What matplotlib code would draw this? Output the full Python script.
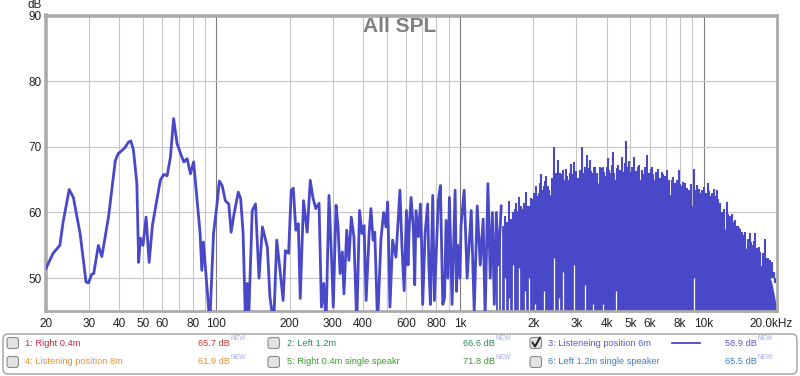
import matplotlib
matplotlib.use("Agg")
import matplotlib.pyplot as plt
import matplotlib.transforms as mtransforms
from matplotlib.patches import FancyBboxPatch
from matplotlib.ticker import NullLocator

plt.rcParams["font.family"] = ["Liberation Sans", "DejaVu Sans"]

LINE = "#4848c8"

# ── Data (REW "All SPL", listening position 6m) ─────────────────────────────
# low/mid band: single trace, Hz / dB
lf_freq = [20, 21.4, 22.8, 23.5, 24.9, 25.9, 27.6, 29.2, 29.9, 30.8, 31.4, 32.8,
           33.9, 36.1, 38.5, 39.6, 40.3, 42.0, 43.6, 44.6, 45.7, 47.2, 48.0, 48.8,
           50.0, 51.5, 53.0, 54.7, 58.9, 60.8, 62.8, 64.8, 66.8, 69.0, 72.3, 73.6,
           75.9, 78.3, 80.7, 85.8, 87.2, 88.5, 91.8, 94.0, 97.4, 100.7, 102.9, 105.7,
           108.9, 112.5, 115, 118, 123, 125.9, 128.8, 131.8, 134, 135.6, 140.4, 144.8,
           149.7, 154.6, 162, 166, 172, 177, 182, 188, 192, 198, 203, 207,
           212, 217, 221, 228, 236, 243, 249, 256, 264, 270, 276, 282,
           290, 297, 302, 310, 316, 322, 329, 334, 343, 350, 358, 367,
           377, 387, 396, 404, 412, 424, 431, 440, 447, 459, 474, 486,
           497, 505, 516, 529, 546, 567, 578, 590, 603, 612, 620, 630,
           644, 652, 660, 675, 688, 696, 703, 719, 737, 745, 756, 773,
           785, 815, 831, 850, 864, 877, 892, 905, 928, 955, 968, 980,
           1000, 1010, 1040, 1070, 1112, 1144, 1177, 1211, 1245, 1268, 1302, 1331,
           1358, 1383, 1410, 1436, 1477]
lf_db = [51.5, 53.8, 55.0, 58.5, 63.5, 62.3, 56.8, 49.4, 49.3, 50.6, 50.7, 55.0,
         53.3, 59.3, 67.9, 69.0, 69.2, 69.8, 70.7, 70.9, 69.5, 64.4, 52.4, 56.1,
         55.0, 59.3, 52.4, 58.1, 64.9, 65.8, 65.6, 68.4, 74.3, 70.5, 68.4, 67.7,
         68.2, 65.9, 67.7, 56.8, 51.2, 55.5, 48.1, 43.0, 56.8, 61.3, 64.8, 64.1,
         61.8, 61.3, 57.0, 59.6, 63.1, 62.1, 56.8, 43.0, 49.2, 43.0, 60.3, 61.3,
         50.0, 57.8, 54.7, 47.1, 43.0, 55.8, 51.7, 46.6, 54.2, 53.8, 63.4, 63.7,
         57.3, 58.3, 46.9, 61.8, 57.0, 64.9, 62.3, 60.6, 61.4, 45.6, 49.2, 43.0,
         62.6, 53.2, 45.6, 61.1, 57.8, 50.7, 54.0, 47.6, 57.3, 52.7, 59.3, 56.3,
         43.0, 60.3, 56.8, 58.0, 46.6, 57.0, 60.6, 55.8, 57.0, 43.0, 56.0, 60.0,
         57.8, 61.6, 45.6, 55.8, 53.2, 63.4, 54.7, 48.1, 60.3, 52.0, 58.3, 62.3,
         57.3, 49.0, 60.3, 56.3, 61.3, 55.0, 46.0, 56.8, 61.3, 52.0, 46.0, 62.6,
         46.6, 61.8, 64.1, 46.0, 47.0, 58.8, 50.0, 62.3, 46.0, 63.4, 48.0, 55.0,
         50.0, 58.0, 63.4, 50.0, 60.3, 45.0, 61.0, 52.0, 59.0, 44.0, 64.4, 50.0,
         60.0, 46.0, 60.0, 52.0, 61.0]

# high band: the trace is so dense it reads as a solid band
body_freq = [1400, 1450, 1500, 1600, 1700, 1800, 1900, 2000, 2100, 2200, 2400, 2600,
             2800, 3000, 3300, 3600, 4000, 4500, 5000, 5500, 6000, 6500, 7000, 7500,
             8000, 8500, 9000, 10000, 11000, 11500, 12000, 12500, 13000, 14000, 15000, 16000,
             17000, 18000, 19000, 19600, 20000]
body_top = [56.0, 58.0, 58.0, 58.5, 59.0, 59.0, 59.5, 60.5, 61.5, 62.0, 63.0, 63.5,
            64.0, 64.0, 64.5, 64.5, 64.5, 65.0, 64.5, 64.0, 63.5, 63.5, 63.0, 62.5,
            62.0, 61.5, 61.0, 61.0, 60.5, 59.0, 57.5, 57.5, 56.5, 55.0, 54.5, 53.5,
            52.0, 51.5, 49.5, 47.0, 45.0]

# individual peaks sticking out of the band
spike_freq = [1534, 1564, 1594, 1624, 1655, 1678, 1702, 1727, 1752, 1777, 1802, 1837,
              1872, 1899, 1926, 1953, 1981, 2019, 2057, 2086, 2116, 2137, 2158, 2189,
              2220, 2241, 2262, 2294, 2327, 2380, 2434, 2461, 2488, 2508, 2528, 2556,
              2584, 2617, 2651, 2692, 2734, 2760, 2786, 2826, 2866, 2904, 2942, 2998,
              3055, 3114, 3173, 3208, 3244, 3275, 3306, 3358, 3410, 3454, 3498, 3537,
              3576, 3662, 3749, 3810, 3872, 3914, 3957, 3995, 4033, 4091, 4150, 4203,
              4256, 4303, 4350, 4392, 4434, 4519, 4605, 4649, 4693, 4744, 4796, 4835,
              4874, 4928, 4982, 5078, 5175, 5284, 5394, 5453, 5512, 5583, 5655, 5764,
              5874, 5939, 6004, 6061, 6119, 6207, 6296, 6387, 6478, 6602, 6727, 6791,
              6855, 6954, 7053, 7224, 7396, 7502, 7609, 7767, 7925, 8028, 8131, 8260,
              8389, 8539, 8690, 8913, 9136, 9210, 9284, 9405, 9526, 9630, 9734, 9860,
              9986, 10193, 10400, 10550, 10700, 10839, 10978, 11152, 11326, 11434, 11542, 11709,
              11876, 12163, 12450, 12571, 12692, 12874, 13056, 13263, 13470, 13645, 13820, 13973,
              14126, 14309, 14492, 14651, 14810, 15170, 15530, 15656, 15782, 16033, 16284, 16495,
              16706, 16891, 17076, 17490, 17904, 18136, 18368, 18722, 19076, 19351, 19626]
spike_db = [59.5, 58.5, 61.8, 59.0, 60.0, 60.5, 61.5, 60.2, 62.3, 61.0, 60.5, 61.5,
            63.1, 61.0, 61.0, 62.2, 62.0, 63.0, 64.1, 62.5, 63.0, 64.5, 65.9, 63.5,
            64.0, 64.8, 65.6, 64.0, 63.5, 65.2, 70.0, 65.0, 66.0, 65.5, 68.0, 64.8,
            66.0, 65.8, 66.4, 65.0, 66.7, 65.5, 65.0, 66.0, 67.4, 65.8, 67.7, 66.3,
            65.2, 66.5, 70.0, 66.0, 67.0, 66.2, 68.7, 66.8, 68.0, 66.3, 66.0, 67.0,
            66.9, 66.0, 67.0, 66.8, 67.0, 66.2, 65.5, 67.0, 68.3, 66.5, 66.0, 67.3,
            69.2, 66.0, 65.0, 66.8, 67.2, 66.5, 68.4, 66.2, 66.0, 67.5, 70.9, 66.5,
            67.0, 67.8, 66.2, 67.0, 68.5, 66.3, 66.9, 67.2, 65.0, 66.5, 65.9, 67.0,
            68.7, 66.0, 66.0, 66.6, 67.0, 65.8, 65.0, 66.2, 66.7, 65.3, 66.2, 65.8,
            64.5, 65.6, 66.5, 65.0, 64.9, 65.4, 64.5, 65.0, 66.4, 64.3, 64.0, 64.6,
            64.5, 63.8, 63.5, 64.3, 66.7, 63.5, 63.0, 64.2, 63.6, 62.8, 63.0, 63.5,
            63.9, 63.0, 64.5, 63.2, 62.5, 63.0, 63.6, 62.5, 63.4, 62.0, 61.0, 61.5,
            60.1, 60.5, 61.6, 59.8, 59.5, 59.5, 59.8, 58.6, 58.8, 58.0, 58.0, 57.6,
            57.5, 57.0, 56.5, 56.5, 57.0, 56.0, 56.9, 55.5, 55.0, 55.6, 56.9, 54.6,
            54.5, 54.8, 54.0, 53.8, 56.0, 53.0, 53.0, 52.8, 52.4, 51.0, 49.3]

# narrow dips in the band (white slivers from the bottom up)
gap_freq = [1436, 1477, 1534, 1594, 1655, 1752, 1850, 1926, 2030, 2220, 2434, 2540,
            2651, 2942, 3244, 3500, 3872, 4350, 9136]
gap_db = [52, 59, 50, 47, 52, 51.6, 48, 50, 46, 48, 53, 47,
          51, 52, 49, 46, 46, 48, 50]

x_ticks = [20, 30, 40, 50, 60, 80, 100, 200, 300, 400, 600, 800,
           1000, 2000, 3000, 4000, 5000, 6000, 8000, 10000, 20000]
x_labels = ["20", "30", "40", "50", "60", "80", "100", "200", "300", "400", "600", "800",
            "1k", "2k", "3k", "4k", "5k", "6k", "8k", "10k", "20.0kHz"]
y_ticks = [50, 60, 70, 80, 90]
minor_grid = [30, 40, 50, 60, 70, 80, 90, 200, 300, 400, 500, 600, 700, 800, 900,
              2000, 3000, 4000, 5000, 6000, 7000, 8000, 9000]
decade_grid = [100, 1000, 10000]

legend_names = ["1: Right 0.4m", "2: Left 1.2m", "3: Listeneing position 6m",
                "4: Listening position 8m", "5: Right 0.4m single speakr",
                "6: Left 1.2m single speaker"]
legend_values = ["65.7", "66.6", "58.9", "61.9", "71.8", "65.5"]
legend_name_colors = ["#c2283e", "#2a8a5c", "#5a5acc", "#e8912c", "#3c9a2c", "#3a7fc8"]
legend_value_colors = ["#d0342e", "#2a8a5c", "#5a5acc", "#e8912c", "#3c9a2c", "#3a7fc8"]
legend_checked = [False, False, True, False, False, False]

# ── Figure ───────────────────────────────────────────────────────────────────
fig = plt.figure(figsize=(8, 3.76), dpi=100)
fig.patch.set_facecolor("white")

ax = fig.add_axes([46 / 800, 1 - 311 / 376, 731 / 800, 295.5 / 376])
ax.set_xscale("log")
ax.set_xlim(20, 20000)
ax.set_ylim(45, 90)

for f in minor_grid:
    ax.axvline(f, color="#c6c6c6", lw=0.8, zorder=0)
for f in decade_grid:
    ax.axvline(f, color="#7c7c7c", lw=0.8, zorder=0)
for v in [50, 60, 70, 80]:
    ax.axhline(v, color="#c6c6c6", lw=0.8, zorder=0)

ax.fill_between(body_freq, 40, body_top, color=LINE, lw=0, zorder=2)
ax.vlines(spike_freq, 50, spike_db, color=LINE, lw=1.5, zorder=2)
ax.vlines(gap_freq, 40, gap_db, color="white", lw=0.9, zorder=2.5)
ax.plot(lf_freq, lf_db, color=LINE, lw=2.0, solid_joinstyle="round", zorder=3)

ax.set_xticks(x_ticks, x_labels)
ax.xaxis.set_minor_locator(NullLocator())
ax.set_yticks(y_ticks, [str(v) for v in y_ticks])
ax.tick_params(axis="both", length=0, labelsize=8.5, colors="#222222")
ax.tick_params(axis="x", pad=5)
ax.tick_params(axis="y", pad=3)
last = ax.get_xticklabels()[-1]
last.set_transform(last.get_transform()
                   + mtransforms.ScaledTranslation(-0.06, 0, fig.dpi_scale_trans))

for name, sp in ax.spines.items():
    sp.set_color("#ababab")
    sp.set_linewidth(2.6 if name in ("left", "top") else 2.0)

fig.text(400 / 800, 1 - 26 / 376, "All SPL", ha="center", va="center",
         fontsize=15, fontweight="bold", color="#808080")
fig.text(42 / 800, 1 - 5 / 376, "dB", ha="right", va="center",
         fontsize=8.5, color="#222222")

# ── Legend panel (pixel-space overlay) ───────────────────────────────────────
ov = fig.add_axes([0, 0, 1, 1])
ov.set_xlim(0, 800)
ov.set_ylim(376, 0)
ov.axis("off")

ov.add_patch(FancyBboxPatch((3, 334), 794, 40,
                            boxstyle="round,pad=0,rounding_size=5",
                            fc="white", ec="#a0a0a0", lw=1))

box_x = [7, 268, 530]
text_x = [25, 287, 548]
value_right = [230, 495, 757]
row_y = [343, 362]

for i, name in enumerate(legend_names):
    r, c = divmod(i, 3)
    y = row_y[r]
    bx = box_x[c]
    ov.add_patch(FancyBboxPatch((bx, y - 5.5), 11.5, 11,
                                boxstyle="round,pad=0,rounding_size=2.5",
                                fc="#e2e2e2", ec="#8a8a8a", lw=0.8))
    if legend_checked[i]:
        ov.plot([bx + 2.5, bx + 5, bx + 10], [y - 0.5, y + 3.5, y - 5.5],
                color="#222222", lw=1.4, solid_capstyle="round")
        ov.plot([672, 700], [y, y], color=LINE, lw=1.3)
    ov.text(text_x[c], y, name, ha="left", va="center", fontsize=6.7,
            color=legend_name_colors[i])
    ov.text(value_right[c], y, legend_values[i] + " dB", ha="right", va="center",
            fontsize=6.7, color=legend_value_colors[i])
    ov.text(value_right[c] + 0.5, y - 4.5, "NEW", ha="left", va="center",
            fontsize=4.8, color="#a4a8f0")

fig.savefig("out.png", dpi=100, facecolor="white")
